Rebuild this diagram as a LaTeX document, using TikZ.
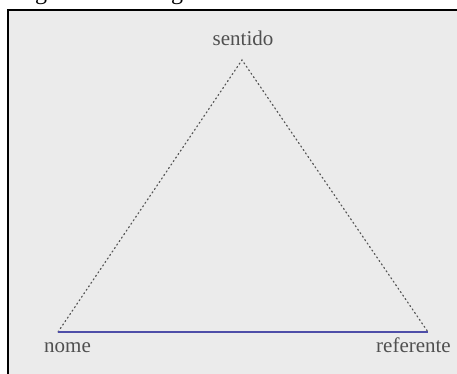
\documentclass[tikz,border=0pt]{standalone}
\usepackage{fontspec}
\setmainfont{Liberation Serif}
\usetikzlibrary{positioning}
\definecolor{panel}{HTML}{EBEBEB}
\definecolor{ink}{HTML}{505050}
\definecolor{side}{HTML}{555555}
\definecolor{base}{HTML}{4E4EA8}

\begin{document}
\begin{tikzpicture}[x=1pt, y=-1pt,
    vlabel/.style={font=\fontsize{21}{23}\selectfont, text=ink, inner sep=0pt}]
  \useasboundingbox (0,0) rectangle (457,374);
  \begin{scope}
    \clip (0,0) rectangle (457,374);
    % ---- caption (cut off at the top) ----
    \node[font=\fontsize{24}{26}\selectfont, anchor=base west, inner sep=0pt]
          (caption) at (15,0){Figura 3 -- Triângulo de Ullmann};
    % ---- panel ----
    \fill[panel] (8,10) rectangle (470,390);
    \draw[line width=1.5pt] (8,390) -- (8,10) -- (470,10);
  \end{scope}
  % ---- vertices ----
  \coordinate (top) at (242,60);
  \coordinate (left) at (58,332);
  \coordinate (right) at (428,332);
  \node[vlabel, anchor=base] (sentido) at (243,46){sentido};
  \node[vlabel, anchor=base west] (nome) at (44,352){nome};
  \node[vlabel, anchor=base east] (referente) at (451,352){referente};
  % ---- sides ----
  \draw[side, line width=1.2pt, line cap=round, dash pattern=on 1.2pt off 3pt]
        (left) -- (top) -- (right);
  \draw[base, line width=1.5pt] (left) -- (right);
\end{tikzpicture}
\end{document}
